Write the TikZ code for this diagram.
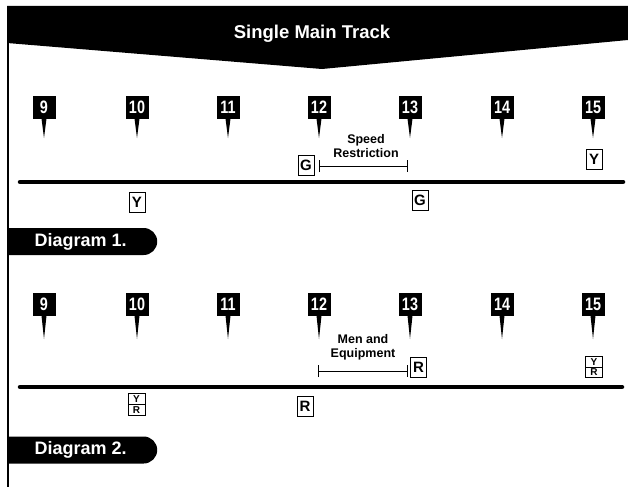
\documentclass[tikz,border=0pt]{standalone}
\usepackage{fontspec}
\setmainfont{Liberation Sans}
\newfontfamily\mpfont[FakeStretch=0.8]{Liberation Sans}
\usetikzlibrary{shapes, arrows.meta, positioning}

\begin{document}
\begin{tikzpicture}[x=1pt, y=-1pt,
    mpost/.style={fill=black, text=white, font=\mpfont\bfseries\fontsize{18}{18}\selectfont, minimum width=23pt, minimum height=23pt, inner sep=1pt},
    sig/.style={draw, line width=0.9pt, font=\bfseries\fontsize{15}{15}\selectfont, minimum width=16pt, minimum height=20pt, inner sep=1pt},
    sigyr/.style={draw, line width=0.8pt, rectangle split, rectangle split parts=2, font=\bfseries\fontsize{10}{10}\selectfont, minimum width=17pt, inner sep=1.5pt},
    track/.style={line width=4.5pt, line cap=round},
    zone/.style={line width=0.8pt, {Bar[width=12pt]}-{Bar[width=12pt]}},
    zonetext/.style={font=\bfseries\fontsize{12.5}{14}\selectfont, align=center},
    tagbox/.style={rounded rectangle, rounded rectangle left arc=none, fill=black, text=white, font=\bfseries\fontsize{18}{18}\selectfont, minimum width=150pt, minimum height=27pt, inner sep=0pt, anchor=west}]
    \useasboundingbox (0,0) rectangle (628,487);

    % Draw the banner and the frame
    \fill (7,6) -- (628,6) -- (628,40) -- (322,69) -- (7,43) -- cycle;
    \node (title) [text=white, font=\bfseries\fontsize{18.5}{18.5}\selectfont] at (312,34) {Single Main Track};
    \draw [line width=2pt] (7.5,6) -- (7.5,487);

    % Draw the mileposts
    \foreach \n/\x in {9/44,10/137,11/228,12/319,13/410,14/502,15/593} {
        \node (mpa\n) [mpost] at (\x,107) {\n};
        \fill ([xshift=-2.5pt]mpa\n.south) -- ([xshift=2.5pt]mpa\n.south) -- (\x,138) -- cycle;
        \node (mpb\n) [mpost] at (\x,304) {\n};
        \fill ([xshift=-2.5pt]mpb\n.south) -- ([xshift=2.5pt]mpb\n.south) -- (\x,339) -- cycle;
    }

    % Diagram 1
    \coordinate (ta) at (20,182);
    \coordinate (tb) at (623,182);
    \draw [track] (ta) -- (tb);
    \coordinate (za) at (319,166);
    \coordinate (zb) at (408,166);
    \draw [zone] (za) -- (zb);
    \node (speed) [zonetext] at (366,146) {Speed\\Restriction};
    \node (g1) [sig] at (306,165) {G};
    \node (y1) [sig] at (137,202) {Y};
    \node (g2) [sig] at (420,200) {G};
    \node (y2) [sig] at (594,159) {Y};
    \node (dia1) [tagbox] at (7,241.5) {Diagram 1.};

    % Diagram 2
    \coordinate (tc) at (20,387);
    \coordinate (td) at (622,387);
    \draw [track] (tc) -- (td);
    \coordinate (zc) at (318,371);
    \coordinate (zd) at (408,371);
    \draw [zone] (zc) -- (zd);
    \node (men) [zonetext] at (363,347) {Men and\\Equipment};
    \node (r1) [sig] at (418.5,367.5) {R};
    \node (r2) [sig] at (305,406) {R};
    \node (yr1) [sigyr] at (594,367) {Y\nodepart{two}R};
    \node (yr2) [sigyr] at (136.5,404.5) {Y\nodepart{two}R};
    \node (dia2) [tagbox] at (7,450) {Diagram 2.};
\end{tikzpicture}
\end{document}
